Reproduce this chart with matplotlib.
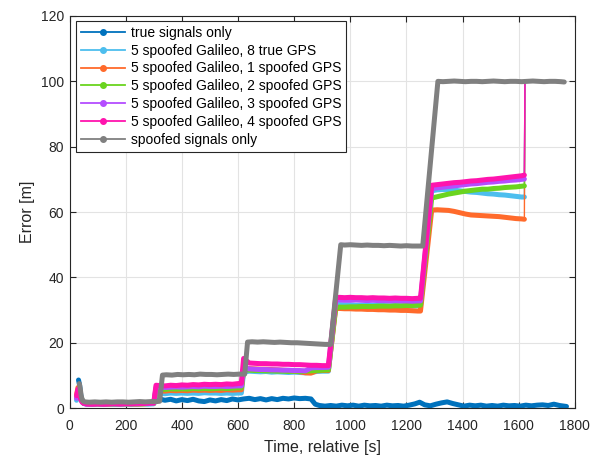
import matplotlib
matplotlib.use("Agg")
import matplotlib.pyplot as plt
from matplotlib.lines import Line2D

plt.rcParams["font.family"] = ["Liberation Sans", "DejaVu Sans"]

# time stamps [s] shared by the mixed spoofing runs
t_mix = [25, 30, 35, 40, 45, 50, 60, 80, 100, 120, 140, 160, 180, 200, 220, 240, 260, 280, 300,
         308, 320, 340, 360, 380, 400, 420, 440, 460, 480, 500, 520, 540, 560, 580, 600, 612,
         620, 640, 660, 680, 700, 720, 740, 760, 780, 800, 820, 840, 860, 880, 900, 922,
         948, 960, 980, 1000, 1020, 1040, 1060, 1080, 1100, 1120, 1140, 1160, 1180, 1200, 1220, 1240, 1250,
         1290, 1310, 1330, 1350, 1370, 1390, 1410, 1430, 1450, 1470, 1490, 1510, 1530, 1550, 1570, 1590,
         1610, 1620, 1622]

err_gps8 = [2.4, 3.6, 4.2, 2.9, 1.8, 1.4, 1.2, 1.1, 1.2, 1.1, 1.2, 1.1, 1.2, 1.2, 1.1, 1.2, 1.3, 1.2, 1.3,
            4.3, 4.5, 4.4, 4.6, 4.5, 4.6, 4.5, 4.6, 4.5, 4.7, 4.6, 4.6, 4.5, 4.6, 4.5, 4.6, 4.6,
            11.0, 11.3, 11.2, 11.1, 11.2, 11.0, 11.1, 11.0, 10.9, 11.0, 10.9, 10.8, 10.9, 11.2, 11.3, 11.3,
            31.6, 31.7, 31.6, 31.6, 31.5, 31.5, 31.4, 31.5, 31.4, 31.4, 31.3, 31.4, 31.3, 31.3, 31.2, 31.3, 31.3,
            66.5, 66.8, 66.9, 66.8, 66.7, 66.5, 66.3, 66.1, 66.0, 65.8, 65.6, 65.5, 65.3, 65.2, 65.0, 64.8,
            64.6, 64.6, 100.0]
err_sp1 = [4.0, 6.3, 6.0, 3.4, 2.0, 1.5, 1.3, 1.2, 1.3, 1.2, 1.2, 1.3, 1.2, 1.3, 1.3, 1.2, 1.3, 1.4, 1.4,
           5.2, 5.3, 5.2, 5.4, 5.3, 5.4, 5.3, 5.5, 5.4, 5.5, 5.4, 5.5, 5.4, 5.6, 5.5, 5.6, 5.6,
           12.0, 12.1, 12.0, 11.9, 11.9, 11.8, 11.7, 11.6, 11.5, 11.3, 11.1, 10.8, 10.7, 11.4, 11.5, 11.5,
           30.4, 30.5, 30.4, 30.4, 30.3, 30.3, 30.2, 30.2, 30.1, 30.1, 30.0, 30.0, 29.9, 29.9, 29.8, 29.7, 29.7,
           60.6, 60.7, 60.6, 60.5, 60.2, 59.8, 59.4, 59.1, 59.0, 58.9, 58.8, 58.7, 58.6, 58.4, 58.2, 58.0,
           57.9, 57.8, 100.0]
err_sp2 = [3.2, 4.5, 4.8, 3.4, 2.4, 1.6, 1.4, 1.3, 1.3, 1.2, 1.3, 1.3, 1.2, 1.3, 1.4, 1.3, 1.3, 1.4, 1.5,
           5.7, 5.8, 5.7, 5.9, 5.8, 5.9, 5.8, 6.0, 5.9, 6.0, 5.9, 6.0, 6.1, 6.0, 6.1, 6.2, 6.2,
           11.8, 11.6, 11.5, 11.5, 11.4, 11.4, 11.3, 11.3, 11.2, 11.3, 11.2, 11.3, 11.4, 11.5, 11.6, 11.7,
           30.8, 30.9, 30.9, 31.0, 31.0, 31.1, 31.1, 31.1, 31.2, 31.2, 31.2, 31.3, 31.3, 31.4, 31.4, 31.5, 31.5,
           64.3, 64.7, 65.1, 65.5, 65.8, 66.1, 66.4, 66.6, 66.8, 67.0, 67.0, 67.2, 67.3, 67.5, 67.6, 67.7,
           67.9, 68.0, 100.0]
err_sp3 = [3.0, 4.8, 5.0, 3.2, 2.0, 1.5, 1.2, 1.2, 1.3, 1.2, 1.3, 1.3, 1.2, 1.3, 1.4, 1.3, 1.4, 1.4, 1.5,
           6.3, 6.4, 6.3, 6.4, 6.5, 6.4, 6.5, 6.6, 6.5, 6.7, 6.6, 6.6, 6.7, 6.6, 6.7, 6.8, 6.8,
           12.5, 12.0, 11.9, 11.8, 11.8, 11.7, 11.7, 11.6, 11.6, 11.5, 11.5, 11.4, 12.3, 12.4, 12.4, 12.5,
           33.0, 33.1, 33.0, 33.0, 33.1, 33.0, 32.9, 33.0, 32.9, 32.9, 32.8, 32.9, 32.8, 32.8, 32.7, 32.8, 32.8,
           67.2, 67.4, 67.6, 67.8, 68.0, 68.2, 68.4, 68.6, 68.7, 68.9, 69.1, 69.2, 69.4, 69.5, 69.7, 69.8,
           70.0, 70.1, 100.0]
err_sp4 = [3.8, 5.8, 4.5, 2.6, 1.8, 1.5, 1.3, 1.2, 1.3, 1.2, 1.3, 1.4, 1.3, 1.4, 1.3, 1.5, 1.4, 1.5, 1.6,
           7.0, 6.9, 6.8, 7.0, 6.9, 7.1, 7.0, 7.2, 7.1, 7.3, 7.2, 7.3, 7.2, 7.4, 7.3, 7.5, 7.6,
           15.2, 13.8, 13.7, 13.6, 13.6, 13.5, 13.5, 13.4, 13.4, 13.3, 13.3, 13.2, 13.1, 13.1, 13.0, 13.0,
           33.8, 33.9, 33.8, 33.9, 33.8, 33.8, 33.7, 33.8, 33.7, 33.7, 33.6, 33.7, 33.6, 33.6, 33.5, 33.6, 33.6,
           68.2, 68.4, 68.6, 68.8, 69.0, 69.1, 69.3, 69.5, 69.6, 69.8, 70.0, 70.1, 70.3, 70.5, 70.7, 70.9,
           71.1, 71.3, 100.0]

# true signals only
t_true = [32, 36, 40, 45, 50, 60, 80, 100, 120, 140, 160, 180, 200, 220, 240, 260, 280, 300,
          320, 340, 360, 380, 400, 420, 440, 460, 480, 500, 520, 540, 560, 580, 600, 620, 640, 660,
          680, 700, 720, 740, 760, 780, 800, 820, 840, 860,
          875, 890, 910, 930, 950, 970, 990, 1010, 1030, 1050, 1070, 1090, 1110, 1130, 1150, 1170,
          1190, 1210, 1230, 1247, 1265, 1285, 1305, 1325, 1345, 1365, 1385, 1405, 1425, 1445, 1465,
          1485, 1505, 1525, 1545, 1565, 1585, 1605, 1625, 1645, 1665, 1685, 1705, 1725, 1745, 1770]
err_true = [8.6, 7.0, 4.0, 2.2, 1.6, 1.4, 1.3, 1.4, 1.3, 1.4, 1.3, 1.4, 1.5, 1.4, 1.5, 1.4, 1.5, 1.6,
            2.8, 2.4, 2.7, 2.2, 2.6, 2.3, 2.7, 2.2, 2.0, 2.5, 2.2, 2.6, 2.3, 2.8, 2.5, 2.8, 3.0, 2.6,
            2.9, 2.5, 2.9, 2.6, 3.0, 2.8, 3.1, 2.9, 3.0, 2.8,
            1.2, 0.8, 0.6, 0.8, 0.6, 0.9, 0.7, 0.9, 0.6, 0.9, 0.7, 0.8, 0.6, 0.9, 0.7, 0.8,
            0.6, 0.9, 1.3, 1.8, 1.0, 0.7, 1.2, 1.6, 1.9, 1.4, 1.0, 0.6, 0.9, 0.7, 0.9,
            0.6, 0.8, 0.6, 0.9, 0.7, 0.8, 0.6, 0.9, 0.7, 0.9, 1.0, 0.8, 1.2, 0.8, 0.5]

# spoofed signals only
t_spoof = [35, 38, 42, 47, 55, 70, 90, 110, 130, 150, 170, 190, 210, 230, 250, 270, 290, 310, 321,
           331, 345, 365, 385, 405, 425, 445, 465, 485, 505, 525, 545, 565, 585, 605, 624,
           634, 650, 670, 690, 710, 730, 750, 770, 790, 810, 830, 850, 870, 890, 910, 930,
           966, 980, 1000, 1020, 1040, 1060, 1080, 1100, 1120, 1140, 1160, 1180, 1200, 1220, 1240, 1258,
           1312, 1330, 1350, 1370, 1390, 1410, 1430, 1450, 1470, 1490, 1510, 1530, 1550, 1570, 1590,
           1610, 1630, 1650, 1670, 1690, 1710, 1730, 1750, 1762]
err_spoof = [7.5, 6.0, 3.5, 2.2, 1.9, 1.8, 1.9, 1.8, 1.9, 1.8, 1.9, 1.9, 1.8, 1.9, 2.0, 1.9, 2.0, 2.0, 2.1,
             10.1, 10.2, 10.1, 10.3, 10.2, 10.3, 10.2, 10.4, 10.3, 10.3, 10.2, 10.3, 10.4, 10.3, 10.4, 10.4,
             20.2, 20.3, 20.2, 20.3, 20.2, 20.1, 20.2, 20.1, 20.0, 20.0, 19.9, 19.8, 19.7, 19.6, 19.5, 19.5,
             50.0, 49.9, 50.0, 49.9, 49.8, 49.9, 49.8, 49.8, 49.7, 49.8, 49.7, 49.6, 49.7, 49.6, 49.6, 49.6,
             100.0, 99.9, 100.0, 100.1, 100.0, 99.9, 100.0, 100.0, 99.9, 100.0, 100.1, 100.0, 99.9, 100.0,
             100.0, 99.9, 100.0, 100.1, 100.0, 99.9, 100.0, 100.0, 99.9, 99.8]

labels = ["true signals only",
          "5 spoofed Galileo, 8 true GPS",
          "5 spoofed Galileo, 1 spoofed GPS",
          "5 spoofed Galileo, 2 spoofed GPS",
          "5 spoofed Galileo, 3 spoofed GPS",
          "5 spoofed Galileo, 4 spoofed GPS",
          "spoofed signals only"]
colors = ["#0072BD", "#4DBEEE", "#FF6A2B", "#6AD41F", "#B44DFF", "#FF14AE", "#808080"]

series = [(t_true, err_true), (t_mix, err_gps8), (t_mix, err_sp1), (t_mix, err_sp2),
          (t_mix, err_sp3), (t_mix, err_sp4), (t_spoof, err_spoof)]

fig = plt.figure(figsize=(6.02, 4.57), dpi=100)
ax = fig.add_axes([0.1155, 0.107, 0.8395, 0.858])

for i, ((t, e), c) in enumerate(zip(series, colors)):
    if t is t_mix:
        # last sample jumps to the spoofed position -> single thin step
        ax.plot(t[:-1], e[:-1], color=c, lw=3.6, solid_capstyle="round",
                solid_joinstyle="round", zorder=2 + i)
        ax.plot(t[-2:], e[-2:], color=c, lw=1.0, zorder=2 + i)
    else:
        ax.plot(t, e, color=c, lw=3.6, solid_capstyle="round",
                solid_joinstyle="round", zorder=2 + i)

ax.set_xlim(0, 1800)
ax.set_ylim(0, 120)
ax.set_xticks(range(0, 1801, 200))
ax.set_yticks(range(0, 121, 20))
ax.grid(True, color="#e3e3e3", lw=0.8)
ax.set_axisbelow(True)
ax.tick_params(direction="in", top=True, right=True, length=4.5, width=0.8,
               colors="#262626", labelsize=10, pad=4)
ax.tick_params(axis="x", pad=8)
for s in ax.spines.values():
    s.set_color("#262626")
    s.set_linewidth(0.8)

ax.set_xlabel("Time, relative [s]", fontsize=11.5, color="#262626", labelpad=5)
ax.set_ylabel("Error [m]", fontsize=11.5, color="#262626", labelpad=4)

handles = [Line2D([], [], color=c, lw=1.3, marker=".", ms=8) for c in colors]
leg = ax.legend(handles, labels, loc="upper left", bbox_to_anchor=(0.0129, 0.987),
                borderaxespad=0, fontsize=10, handlelength=3.2, handletextpad=0.4,
                labelspacing=0.28, borderpad=0.33, fancybox=False, framealpha=1,
                edgecolor="#262626")
leg.get_frame().set_linewidth(0.8)

fig.savefig("out.png", dpi=100)
